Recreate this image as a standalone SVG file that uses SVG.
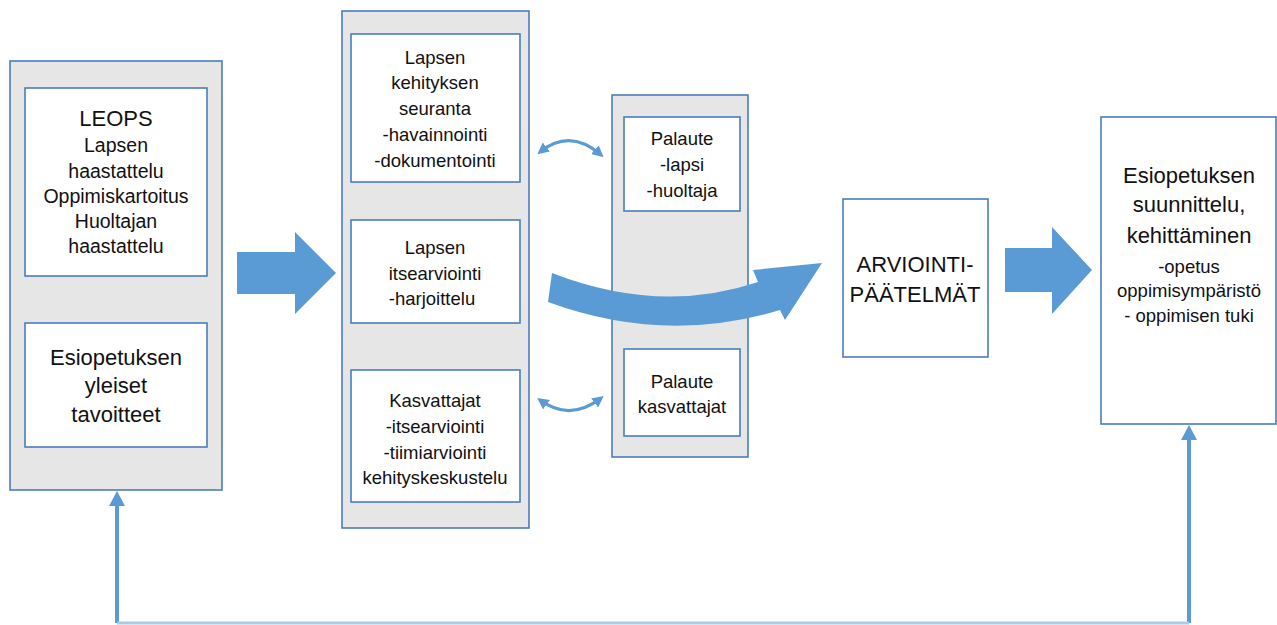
<svg xmlns="http://www.w3.org/2000/svg" width="1277" height="625" viewBox="0 0 1277 625">
  <defs>
    <style>
      .container { fill: #e6e6e6; stroke: #4a7ebb; stroke-width: 1.6; }
      .box { fill: #ffffff; stroke: #4a7ebb; stroke-width: 1.6; }
      .t { font-family: "Liberation Sans", Arial, sans-serif; fill: #111111; text-anchor: middle; }
      .s18 { font-size: 18.5px; }
      .s19 { font-size: 19.5px; }
      .s22 { font-size: 22px; }
      .blue { fill: #5b9bd5; }
      .dbl { fill: none; stroke: #5b9bd5; stroke-width: 3.2; marker-start: url(#ah); marker-end: url(#ah); }
      .fb { fill: none; stroke: #5b9bd5; stroke-width: 4; }
    </style>
    <marker id="ah" viewBox="0 0 10 10" refX="7" refY="5" markerWidth="3.6" markerHeight="3.6" orient="auto-start-reverse" markerUnits="strokeWidth">
      <path d="M0,0 L10,5 L0,10 z" fill="#5b9bd5"/>
    </marker>
  </defs>

  <g id="left-container">
    <rect class="container" x="10" y="61" width="212" height="429"/>
  </g>
  <g id="leops">
    <rect class="box" x="25" y="88" width="182" height="188"/>
    <text class="t s22" x="116" y="126">LEOPS</text>
    <text class="t s19" x="116" y="152">Lapsen</text>
    <text class="t s19" x="116" y="178">haastattelu</text>
    <text class="t s19" x="116" y="203">Oppimiskartoitus</text>
    <text class="t s19" x="116" y="228">Huoltajan</text>
    <text class="t s19" x="116" y="253">haastattelu</text>
  </g>
  <g id="tavoitteet">
    <rect class="box" x="25" y="323" width="182" height="124"/>
    <text class="t s22" x="116" y="365">Esiopetuksen</text>
    <text class="t s22" x="116" y="393">yleiset</text>
    <text class="t s22" x="116" y="422">tavoitteet</text>
  </g>

  <g id="middle-container">
    <rect class="container" x="342" y="11" width="187" height="517"/>
  </g>
  <g id="seuranta">
    <rect class="box" x="351" y="34" width="169" height="148"/>
    <text class="t s18" x="435" y="64">Lapsen</text>
    <text class="t s18" x="435" y="89">kehityksen</text>
    <text class="t s18" x="435" y="115">seuranta</text>
    <text class="t s18" x="435" y="141">-havainnointi</text>
    <text class="t s18" x="435" y="167">-dokumentointi</text>
  </g>
  <g id="itsearviointi">
    <rect class="box" x="351" y="220" width="169" height="103"/>
    <text class="t s18" x="435" y="254">Lapsen</text>
    <text class="t s18" x="435" y="280">itsearviointi</text>
    <text class="t s18" x="432" y="305">-harjoittelu</text>
  </g>
  <g id="kasvattajat">
    <rect class="box" x="351" y="370" width="169" height="132"/>
    <text class="t s18" x="435" y="407">Kasvattajat</text>
    <text class="t s18" x="435" y="433">-itsearviointi</text>
    <text class="t s18" x="435" y="459">-tiimiarviointi</text>
    <text class="t s18" x="435" y="484">kehityskeskustelu</text>
  </g>

  <g id="palaute-container">
    <rect class="container" x="612" y="95" width="136" height="362"/>
  </g>
  <g id="palaute-lapsi">
    <rect class="box" x="624" y="117" width="116" height="94"/>
    <text class="t s18" x="682" y="145">Palaute</text>
    <text class="t s18" x="682" y="171">-lapsi</text>
    <text class="t s18" x="682" y="197">-huoltaja</text>
  </g>
  <g id="palaute-kasvattajat">
    <rect class="box" x="624" y="349" width="116" height="87"/>
    <text class="t s18" x="682" y="388">Palaute</text>
    <text class="t s18" x="682" y="413">kasvattajat</text>
  </g>

  <g id="arviointi">
    <rect class="box" x="843" y="199" width="145" height="158"/>
    <text class="t s22" x="915" y="272">ARVIOINTI-</text>
    <text class="t s22" x="915" y="302">PÄÄTELMÄT</text>
  </g>

  <g id="suunnittelu">
    <rect class="box" x="1101" y="117" width="175" height="307"/>
    <text class="t s22" x="1189" y="183">Esiopetuksen</text>
    <text class="t s22" x="1189" y="212">suunnittelu,</text>
    <text class="t s22" x="1189" y="243">kehittäminen</text>
    <text class="t s18" x="1189" y="273">-opetus</text>
    <text class="t s18" x="1189" y="297">oppimisympäristö</text>
    <text class="t s18" x="1189" y="322">- oppimisen tuki</text>
  </g>

  <g id="connectors">
    <polygon class="blue" points="237,252 295,252 295,232 336,273 295,314 295,294 237,294"/>
    <polygon class="blue" points="1005,248 1052,248 1052,227 1092,270 1052,314 1052,292 1005,292"/>
    <path class="blue" d="M552,273 Q660,315 758,282 L753,270 L822,263 L785,320 L780,310 Q665,345 548,302 Z"/>
    <path class="dbl" d="M540,152 Q570,128 601,155"/>
    <path class="dbl" d="M540,400 Q570,422 601,398"/>
    <path class="fb" d="M1189,438 L1189,623"/>
    <path class="fb" d="M117,623 L117,503"/>
    <path d="M117,623 L1189,623" fill="none" stroke="#a9cbe9" stroke-width="3"/>
    <polygon class="blue" points="117,491 125,506 109,506"/>
    <polygon class="blue" points="1189,425 1197,440 1181,440"/>
  </g>
</svg>
